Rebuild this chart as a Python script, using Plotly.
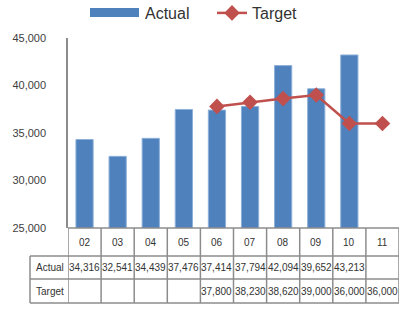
import plotly.graph_objects as go

categories = ["02", "03", "04", "05", "06", "07", "08", "09", "10", "11"]
actual = [34316, 32541, 34439, 37476, 37414, 37794, 42094, 39652, 43213, None]
target = [None, None, None, None, 37800, 38230, 38620, 39000, 36000, 36000]
y_ticks = [25000, 30000, 35000, 40000, 45000]

W, H = 412, 311
ML, MR, MT, MB = 68, 13, 38, 83
PW, PH = W - ML - MR, H - MT - MB

def py(p):  # pixel y -> paper y
    return (MT + PH - p) / PH

def px(p):  # pixel x -> paper x
    return (p - ML) / PW

BLUE = "#4F81BD"
RED = "#C0504D"
GRID = "#8C8C8C"
FONT = "Liberation Sans"

fig = go.Figure()
fig.add_trace(go.Bar(x=categories, y=actual, name="Actual", showlegend=False,
                     marker=dict(color=BLUE, line=dict(color="#8DB0DA", width=1))))
fig.add_trace(go.Scatter(x=categories, y=target, name="Target", mode="lines+markers",
                         line=dict(color=RED, width=2.5),
                         marker=dict(symbol="diamond", size=12, color=RED)))

shapes = []
n = len(categories)
y_top_row = py(256)
y_mid_row = py(279)
y_bot = py(303)
for i in range(n + 1):
    shapes.append(dict(type="line", xref="x", yref="paper", x0=i - 0.5, x1=i - 0.5,
                       y0=0, y1=y_bot, line=dict(color=GRID, width=1.5)))
shapes.append(dict(type="line", xref="paper", yref="paper", x0=px(30), x1=px(30),
                   y0=y_top_row, y1=y_bot, line=dict(color=GRID, width=1.5)))
for yy in [y_top_row, y_mid_row, y_bot]:
    shapes.append(dict(type="line", xref="paper", yref="paper", x0=px(30), x1=1,
                       y0=yy, y1=yy, line=dict(color=GRID, width=1.5)))
shapes.append(dict(type="line", xref="paper", yref="paper", x0=0, x1=1,
                   y0=0, y1=0, line=dict(color=GRID, width=1.5)))
# legend swatch for Actual
shapes.append(dict(type="rect", xref="paper", yref="paper", x0=px(90), x1=px(139),
                   y0=py(17), y1=py(8), fillcolor=BLUE, line=dict(width=0)))

ann = []
tf = dict(family=FONT, size=10, color="#333333")
for i, c in enumerate(categories):
    ann.append(dict(x=i, y=py(242), xref="x", yref="paper", text=c, showarrow=False,
                    font=tf, xanchor="center", yanchor="middle"))
for i, v in enumerate(actual):
    if v is not None:
        ann.append(dict(x=i, y=py(267.5), xref="x", yref="paper", text=f"{v:,}",
                        showarrow=False, font=tf, xanchor="center", yanchor="middle"))
for i, v in enumerate(target):
    if v is not None:
        ann.append(dict(x=i, y=py(291), xref="x", yref="paper", text=f"{v:,}",
                        showarrow=False, font=tf, xanchor="center", yanchor="middle"))
for lbl, yp in [("Actual", 267.5), ("Target", 291)]:
    ann.append(dict(x=px(34), y=py(yp), xref="paper", yref="paper", text=lbl,
                    showarrow=False, font=tf, xanchor="left", yanchor="middle"))
ann.append(dict(x=px(143), y=py(13), xref="paper", yref="paper", text="Actual",
                showarrow=False, font=dict(family=FONT, size=16, color="#333333"),
                xanchor="left", yanchor="middle"))

fig.update_layout(
    width=W, height=H,
    margin=dict(l=ML, r=MR, t=MT, b=MB, autoexpand=False),
    paper_bgcolor="white", plot_bgcolor="white",
    bargap=0.48,
    showlegend=True,
    legend=dict(orientation="h", x=px(212), xanchor="left", y=py(13), yanchor="middle",
                font=dict(family=FONT, size=16, color="#333333"),
                bgcolor="rgba(0,0,0,0)"),
    xaxis=dict(type="category", range=[-0.5, n - 0.5], showticklabels=False, showgrid=False,
               zeroline=False, showline=False, ticks=""),
    yaxis=dict(range=[25000, 45000], tickvals=y_ticks, tickformat=",d",
               showgrid=False, zeroline=False, showline=True, linecolor=GRID, linewidth=1.5,
               ticks="", ticklabelstandoff=18,
               tickfont=dict(family=FONT, size=11, color="#404040")),
    shapes=shapes, annotations=ann,
)
fig.write_html("out.html", config={"displayModeBar": False},
               post_script="document.body.style.margin='0';document.body.style.overflow='hidden';")
